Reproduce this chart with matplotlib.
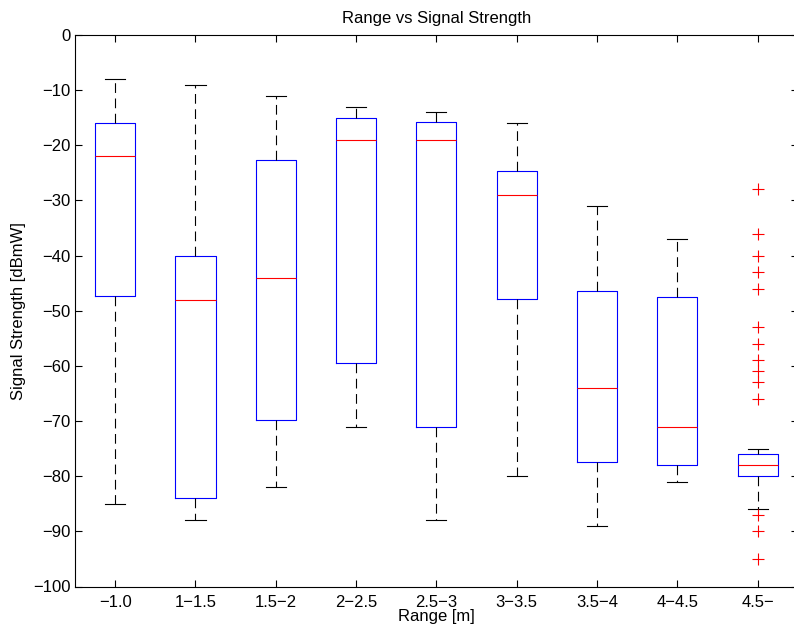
import matplotlib
matplotlib.use("Agg")
import matplotlib.pyplot as plt

plt.rcParams['font.family'] = ['Liberation Sans', 'DejaVu Sans']
plt.rcParams['lines.scale_dashes'] = False

# Signal strength per range bin (dBmW)
labels    = ["\u22121.0", "1\u22121.5", "1.5\u22122", "2\u22122.5", "2.5\u22123",
             "3\u22123.5", "3.5\u22124", "4\u22124.5", "4.5\u2212"]
whis_lo   = [-85, -88, -82, -71, -88, -80, -89, -81, -86]
q1        = [-47.3, -84, -69.8, -59.5, -71, -47.8, -77.5, -78, -80]
medians   = [-22, -48, -44, -19, -19, -29, -64, -71, -78]
q3        = [-16, -40, -22.7, -15, -15.8, -24.7, -46.5, -47.5, -76]
whis_hi   = [-8, -9, -11, -13, -14, -16, -31, -37, -75]
outliers  = [[], [], [], [], [], [], [], [],
             [-28, -36, -40, -43, -46, -53, -56, -59, -61, -63, -66,
              -87, -90, -95]]

stats = []
for i in range(len(labels)):
    stats.append(dict(label=labels[i], whislo=whis_lo[i], q1=q1[i],
                      med=medians[i], q3=q3[i], whishi=whis_hi[i],
                      fliers=outliers[i]))

fig = plt.figure(figsize=(7.94, 6.24), dpi=100)
ax = fig.add_axes([75 / 794, 37.5 / 624, 722.8 / 794, 551.5 / 624])

ax.bxp(stats, positions=range(1, len(labels) + 1), widths=0.5,
       capwidths=0.25,
       boxprops=dict(color='blue', lw=0.8),
       medianprops=dict(color='red', lw=0.8),
       whiskerprops=dict(color='black', lw=0.8, linestyle=(0, (7, 4))),
       capprops=dict(color='black', lw=0.8),
       flierprops=dict(marker='+', markeredgecolor='red', markersize=8,
                       markeredgewidth=0.8, linestyle='none'))

ax.set_xlim(0.5, 9.5)
ax.set_ylim(-100, 0)
ax.set_yticks(range(-100, 1, 10))
ax.tick_params(direction='in', length=5, width=0.8, labelsize=12,
               top=True, right=True)
ax.tick_params(axis='x', pad=6)
ax.tick_params(axis='y', pad=3)
for sp in ax.spines.values():
    sp.set_linewidth(0.8)
ax.spines['right'].set_visible(False)

ax.set_title("Range vs Signal Strength", fontsize=12, pad=8.5)
ax.set_xlabel("Range [m]", fontsize=12, labelpad=-0.5)
ax.set_ylabel("Signal Strength [dBmW]", fontsize=12, labelpad=5.5)

fig.savefig("out.png", dpi=100)
